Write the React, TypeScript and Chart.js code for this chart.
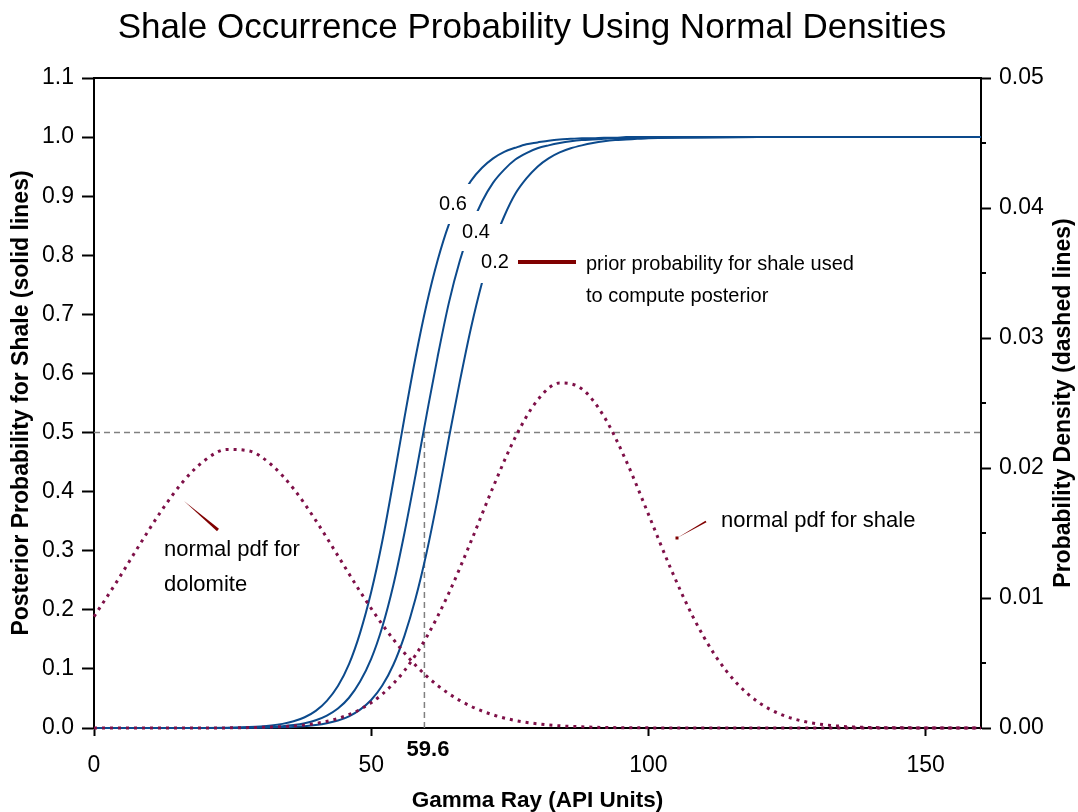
import React, { useEffect, useRef } from 'react';
import { Chart, registerables } from 'chart.js';

Chart.register(...registerables);

const FONT = '"Liberation Sans", Arial, Helvetica, sans-serif';

// ---------- data ----------
const postX = [0, 20, 24, 26, 28, 30, 32, 34, 36, 38, 40, 42, 44, 46, 48, 50, 52, 54, 56, 58, 60, 62, 64, 66, 68, 70, 72, 74, 76, 78, 80, 82, 84, 86, 88, 90, 92, 94, 96, 98, 100, 120, 160];

const post06 = [0, 0.0001, 0.0005, 0.0009, 0.0015, 0.0025, 0.0042, 0.0070, 0.0113, 0.0182, 0.0290, 0.046, 0.071, 0.108, 0.161, 0.230, 0.316, 0.418, 0.525, 0.627, 0.717, 0.792, 0.852, 0.895, 0.926, 0.948, 0.964, 0.975, 0.982, 0.988, 0.991, 0.994, 0.996, 0.997, 0.998, 0.998, 0.999, 0.999, 1.0, 1.0, 1.0, 1.0, 1.0];

const post04 = [0, 0, 0.0002, 0.0004, 0.0007, 0.0011, 0.0019, 0.0031, 0.0051, 0.0082, 0.0131, 0.0210, 0.0329, 0.0512, 0.0787, 0.117, 0.171, 0.242, 0.330, 0.428, 0.530, 0.629, 0.719, 0.791, 0.848, 0.891, 0.923, 0.945, 0.962, 0.973, 0.981, 0.986, 0.990, 0.993, 0.995, 0.996, 0.997, 0.998, 0.998, 0.999, 0.999, 1.0, 1.0];

const post02 = [0, 0, 0.0001, 0.0002, 0.0003, 0.0004, 0.0007, 0.0012, 0.0019, 0.0031, 0.0050, 0.0080, 0.0126, 0.0198, 0.0311, 0.0474, 0.0718, 0.107, 0.156, 0.219, 0.297, 0.389, 0.490, 0.587, 0.677, 0.754, 0.818, 0.866, 0.904, 0.930, 0.950, 0.964, 0.974, 0.981, 0.986, 0.990, 0.993, 0.995, 0.996, 0.997, 0.998, 1.0, 1.0];

const pdfX = [0, 4, 8, 12, 16, 20, 24, 28, 32, 36, 40, 44, 48, 52, 56, 60, 64, 68, 72, 76, 80, 84, 88, 92, 96, 100, 104, 108, 112, 116, 120, 124, 128, 132, 136, 140, 144, 148, 152, 156, 160];

const pdfDolomite = [0.00857, 0.01118, 0.01394, 0.01661, 0.01892, 0.02060, 0.02143, 0.02131, 0.02025, 0.01840, 0.01597, 0.01325, 0.01050, 0.00796, 0.00577, 0.00399, 0.00264, 0.00167, 0.00101, 0.00058, 0.00032, 0.00017, 0.00009, 0.00004, 0.00002, 0.00001, 0, 0, 0, 0, 0, 0, 0, 0, 0, 0, 0, 0, 0, 0, 0];

const pdfShale = [0, 0, 0, 0, 0, 0, 0.00001, 0.00003, 0.00007, 0.00016, 0.00035, 0.00073, 0.00143, 0.00260, 0.00441, 0.00700, 0.01037, 0.01435, 0.01854, 0.02237, 0.02522, 0.02654, 0.02609, 0.02396, 0.02054, 0.01645, 0.01230, 0.00859, 0.00561, 0.00342, 0.00194, 0.00103, 0.00051, 0.00024, 0.00010, 0.00004, 0.00002, 0.00001, 0, 0, 0];

const cutoffX = 59.6;
const cutoffP = 0.5;

const xTicks = [0, 50, 100, 150];
const yTicks = [0, 0.1, 0.2, 0.3, 0.4, 0.5, 0.6, 0.7, 0.8, 0.9, 1.0, 1.1];
const y2Ticks = [0, 0.01, 0.02, 0.03, 0.04, 0.05];
const y2Minor = [0.005, 0.015, 0.025, 0.035, 0.045];

const priorLabels = ['0.6', '0.4', '0.2'];

const TITLE = 'Shale Occurrence Probability Using Normal Densities';
const X_TITLE = 'Gamma Ray (API Units)';
const Y_TITLE = 'Posterior Probability for Shale (solid lines)';
const Y2_TITLE = 'Probability Density (dashed lines)';

const BLUE = '#0c4a8c';
const PDF_COLOR = '#7e1048';
const DARKRED = '#800000';

const pts = (xs: number[], ys: number[]) => xs.map((x, i) => ({ x, y: ys[i] }));

function wedge(ctx: CanvasRenderingContext2D, x1: number, y1: number, x2: number, y2: number, w: number) {
  const dx = x2 - x1, dy = y2 - y1;
  const len = Math.hypot(dx, dy) || 1;
  const nx = -dy / len, ny = dx / len;
  ctx.beginPath();
  ctx.moveTo(x1, y1);
  ctx.lineTo(x2 + nx * w / 2, y2 + ny * w / 2);
  ctx.lineTo(x2 - nx * w / 2, y2 - ny * w / 2);
  ctx.closePath();
  ctx.fill();
}

const decor = {
  id: 'decor',
  afterDatasetsDraw(chart: any) {
    const { ctx, chartArea: a, scales } = chart;
    ctx.save();
    // top frame
    ctx.strokeStyle = '#000';
    ctx.lineWidth = 2;
    ctx.beginPath();
    ctx.moveTo(a.left - 1, a.top);
    ctx.lineTo(a.right + 1, a.top);
    ctx.stroke();
    // minor ticks right axis
    y2Minor.forEach((v) => {
      const py = scales.y2.getPixelForValue(v);
      ctx.beginPath();
      ctx.moveTo(a.right, py);
      ctx.lineTo(a.right + 5, py);
      ctx.stroke();
    });
    // gaps behind prior labels
    ctx.fillStyle = '#fff';
    ctx.fillRect(437, 184, 33, 40);
    ctx.fillRect(459, 211, 30, 40);
    ctx.fillRect(478, 224, 34, 59);
    // prior labels
    ctx.fillStyle = '#000';
    ctx.font = `20px ${FONT}`;
    ctx.textAlign = 'center';
    ctx.textBaseline = 'middle';
    ctx.fillText(priorLabels[0], 453, 204);
    ctx.fillText(priorLabels[1], 476, 232.5);
    ctx.fillText(priorLabels[2], 495, 262);
    // legend line
    ctx.strokeStyle = DARKRED;
    ctx.lineWidth = 4;
    ctx.beginPath();
    ctx.moveTo(518, 262);
    ctx.lineTo(576, 262);
    ctx.stroke();
    ctx.textAlign = 'left';
    ctx.textBaseline = 'alphabetic';
    ctx.fillText('prior probability for shale used', 586, 270);
    ctx.fillText('to compute posterior', 586, 302);
    // annotations
    ctx.font = `22px ${FONT}`;
    ctx.fillText('normal pdf for', 164, 556);
    ctx.fillText('dolomite', 164, 591);
    ctx.fillText('normal pdf for shale', 721, 527);
    ctx.fillStyle = DARKRED;
    wedge(ctx, 184, 501, 218, 530, 3);
    wedge(ctx, 677, 538, 706, 521.5, 2);
    ctx.fillRect(675.5, 536.5, 3, 3);
    ctx.restore();
  },
  afterDraw(chart: any) {
    const { ctx, chartArea: a } = chart;
    ctx.save();
    ctx.fillStyle = '#000';
    ctx.textAlign = 'center';
    ctx.textBaseline = 'alphabetic';
    ctx.font = `35px ${FONT}`;
    ctx.fillText(TITLE, 532, 38);
    ctx.font = `bold 22.5px ${FONT}`;
    ctx.fillText(X_TITLE, (a.left + a.right) / 2, 807);
    ctx.font = `bold 22px ${FONT}`;
    ctx.fillText(String(cutoffX), 428, 756);
    ctx.font = `bold 23px ${FONT}`;
    ctx.textBaseline = 'middle';
    const cy = (a.top + a.bottom) / 2;
    ctx.save();
    ctx.translate(22, cy);
    ctx.rotate(-Math.PI / 2);
    ctx.fillText(Y_TITLE, 0, 0);
    ctx.restore();
    ctx.save();
    ctx.translate(1064, cy);
    ctx.rotate(-Math.PI / 2);
    ctx.fillText(Y2_TITLE, 0, 0);
    ctx.restore();
    ctx.restore();
  },
};

export default function App() {
  const ref = useRef<HTMLCanvasElement>(null);
  useEffect(() => {
    if (!ref.current) return;
    Chart.defaults.font.family = FONT;
    const curve = (label: string, ys: number[]) => ({
      label,
      data: pts(postX, ys),
      yAxisID: 'y',
      borderColor: BLUE,
      borderWidth: 2,
      pointRadius: 0,
      cubicInterpolationMode: 'monotone' as const,
      fill: false,
      clip: false as any,
    });
    const pdf = (label: string, ys: number[]) => ({
      label,
      data: pts(pdfX, ys),
      yAxisID: 'y2',
      borderColor: PDF_COLOR,
      borderWidth: 3,
      borderDash: [3, 5],
      borderCapStyle: 'butt' as const,
      pointRadius: 0,
      cubicInterpolationMode: 'monotone' as const,
      fill: false,
      clip: false as any,
    });
    const chart = new Chart(ref.current, {
      type: 'line',
      data: {
        datasets: [
          pdf('dolomite pdf', pdfDolomite),
          pdf('shale pdf', pdfShale),
          curve('prior 0.6', post06),
          curve('prior 0.4', post04),
          curve('prior 0.2', post02),
          {
            label: 'p=0.5',
            data: [{ x: 0, y: cutoffP }, { x: 160, y: cutoffP }],
            yAxisID: 'y',
            borderColor: '#808080',
            borderWidth: 1.5,
            borderDash: [6, 4],
            pointRadius: 0,
            fill: false,
          },
          {
            label: 'cutoff',
            data: [{ x: cutoffX, y: 0 }, { x: cutoffX, y: cutoffP }],
            yAxisID: 'y',
            borderColor: '#808080',
            borderWidth: 1.5,
            borderDash: [6, 4],
            pointRadius: 0,
            fill: false,
          },
        ],
      },
      options: {
        responsive: false,
        animation: false,
        layout: { padding: { top: 78, left: 0, right: 0, bottom: 0 } },
        plugins: { legend: { display: false }, tooltip: { enabled: false }, title: { display: false } },
        scales: {
          x: {
            type: 'linear',
            position: 'bottom',
            min: 0,
            max: 160,
            afterBuildTicks: (s: any) => { s.ticks = xTicks.map((v) => ({ value: v })); },
            afterFit: (s: any) => { s.height = 84; },
            ticks: { color: '#000', font: { size: 23, family: FONT }, padding: 16, maxRotation: 0, callback: (v: any) => String(v) },
            grid: { drawOnChartArea: false, drawTicks: true, tickLength: 8, tickColor: '#000', tickWidth: 2 },
            border: { display: true, color: '#000', width: 2 },
          },
          y: {
            type: 'linear',
            position: 'left',
            min: 0,
            max: 1.1,
            afterBuildTicks: (s: any) => { s.ticks = yTicks.map((v) => ({ value: v })); },
            afterFit: (s: any) => { s.width = 94; },
            ticks: { color: '#000', font: { size: 23, family: FONT }, padding: 8, callback: (v: any) => Number(v).toFixed(1) },
            grid: { drawOnChartArea: false, drawTicks: true, tickLength: 12, tickColor: '#000', tickWidth: 2 },
            border: { display: true, color: '#000', width: 2 },
          },
          y2: {
            type: 'linear',
            position: 'right',
            min: 0,
            max: 0.05,
            afterBuildTicks: (s: any) => { s.ticks = y2Ticks.map((v) => ({ value: v })); },
            afterFit: (s: any) => { s.width = 97; },
            ticks: { color: '#000', font: { size: 23, family: FONT }, padding: 8, callback: (v: any) => Number(v).toFixed(2) },
            grid: { drawOnChartArea: false, drawTicks: true, tickLength: 10, tickColor: '#000', tickWidth: 2 },
            border: { display: true, color: '#000', width: 2 },
          },
        },
      },
      plugins: [decor],
    } as any);
    return () => chart.destroy();
  }, []);
  return (
    <div style={{ position: 'fixed', left: 0, top: 0, width: 1078, height: 812, background: '#fff' }}>
      <canvas ref={ref} width={1078} height={812} />
    </div>
  );
}
